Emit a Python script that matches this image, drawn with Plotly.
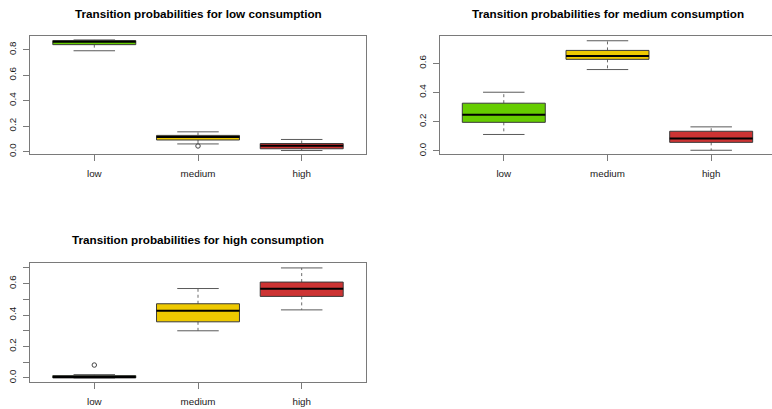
import plotly.graph_objects as go

# ---------------- data ----------------
categories = ["low", "medium", "high"]
colors = ["#66CD00", "#EEC900", "#CD3333"]

titles = [
    "Transition probabilities for low consumption",
    "Transition probabilities for medium consumption",
    "Transition probabilities for high consumption",
]

# per panel: [low, medium, high]
low_lower = [0.792, 0.113, 0.000]
low_q1 = [0.840, 0.196, 0.000]
low_med = [0.863, 0.248, 0.006]
low_q3 = [0.872, 0.327, 0.015]
low_upper = [0.877, 0.402, 0.021]

med_lower = [0.060, 0.557, 0.300]
med_q1 = [0.091, 0.627, 0.357]
med_med = [0.115, 0.650, 0.428]
med_q3 = [0.127, 0.688, 0.472]
med_upper = [0.155, 0.754, 0.569]

high_lower = [0.008, 0.005, 0.433]
high_q1 = [0.022, 0.059, 0.519]
high_med = [0.045, 0.086, 0.567]
high_q3 = [0.063, 0.135, 0.610]
high_upper = [0.095, 0.165, 0.700]

# outliers per panel: (category index, value)
outliers = [[(1, 0.044)], [], [(0, 0.082)]]

panel_ticks = [
    ([0.0, 0.2, 0.4, 0.6, 0.8], ["0.0", "0.2", "0.4", "0.6", "0.8"]),
    ([0.0, 0.2, 0.4, 0.6], ["0.0", "0.2", "0.4", "0.6"]),
    ([0.0, 0.1, 0.2, 0.3, 0.4, 0.5, 0.6, 0.7], ["0.0", "", "0.2", "", "0.4", "", "0.6", ""]),
]

# ---------------- layout geometry ----------------
W, H = 772, 409
FRAME = "#7a7a7a"
TXT = "#1a1a1a"
FONT = "Liberation Sans"
BOXW = 0.4     # half box width
STAPLE = 0.2   # half staple width

fig = go.Figure()

panels = [
    dict(x=(30, 366), y=(36, 155.5), xr=[0.38, 3.62], yr=[-0.022, 0.91], title_xy=(198, 13.5)),
    dict(x=(439.5, 772), y=(36.5, 155.5), xr=[0.38, 0.38 + (772 - 439.5) / 103.7], yr=[-0.023, 0.785], title_xy=(608, 13.5)),
    dict(x=(30, 366), y=(265, 385), xr=[0.38, 3.62], yr=[-0.027, 0.731], title_xy=(198, 241.5)),
]

for p_i, p in enumerate(panels):
    sfx = "" if p_i == 0 else str(p_i + 1)
    xa, ya = "x" + sfx, "y" + sfx
    stats = [
        (low_lower[p_i], low_q1[p_i], low_med[p_i], low_q3[p_i], low_upper[p_i]),
        (med_lower[p_i], med_q1[p_i], med_med[p_i], med_q3[p_i], med_upper[p_i]),
        (high_lower[p_i], high_q1[p_i], high_med[p_i], high_q3[p_i], high_upper[p_i]),
    ]
    for c_i, (lo, q1, md, q3, up) in enumerate(stats):
        xc = c_i + 1
        # whiskers (dashed)
        fig.add_trace(go.Scatter(x=[xc, xc, None, xc, xc], y=[q3, up, None, q1, lo], mode="lines",
                                 line=dict(color="#6a6a6a", width=1, dash="3px,3px"),
                                 xaxis=xa, yaxis=ya, showlegend=False, hoverinfo="skip"))
        # staples
        fig.add_trace(go.Scatter(x=[xc - STAPLE, xc + STAPLE, None, xc - STAPLE, xc + STAPLE],
                                 y=[up, up, None, lo, lo], mode="lines",
                                 line=dict(color="#5a5a5a", width=1),
                                 xaxis=xa, yaxis=ya, showlegend=False, hoverinfo="skip"))
        # box
        fig.add_trace(go.Scatter(x=[xc - BOXW, xc + BOXW, xc + BOXW, xc - BOXW, xc - BOXW],
                                 y=[q1, q1, q3, q3, q1], mode="lines", fill="toself",
                                 fillcolor=colors[c_i], line=dict(color="#3a3a3a", width=1),
                                 xaxis=xa, yaxis=ya, showlegend=False, hoverinfo="skip"))
        # median
        fig.add_trace(go.Scatter(x=[xc - BOXW, xc + BOXW], y=[md, md], mode="lines",
                                 line=dict(color="#000000", width=2),
                                 xaxis=xa, yaxis=ya, showlegend=False, hoverinfo="skip"))
    if outliers[p_i]:
        fig.add_trace(go.Scatter(x=[o[0] + 1 for o in outliers[p_i]], y=[o[1] for o in outliers[p_i]],
                                 mode="markers",
                                 marker=dict(symbol="circle-open", size=4.5, color="#444444", line=dict(width=1)),
                                 xaxis=xa, yaxis=ya, showlegend=False, hoverinfo="skip"))

    xdom = [p["x"][0] / W, p["x"][1] / W]
    ydom = [1 - p["y"][1] / H, 1 - p["y"][0] / H]
    tv, tt = panel_ticks[p_i]
    fig.update_layout(**{
        "xaxis" + sfx: dict(domain=xdom, range=p["xr"], anchor=ya, tickvals=[1, 2, 3], ticktext=categories,
                            showgrid=False, zeroline=False, showline=True, linecolor=FRAME, linewidth=1,
                            mirror=True, ticks="outside", ticklen=6, tickcolor=FRAME,
                            tickfont=dict(family=FONT, size=9.8, color=TXT), ticklabelstandoff=4),
        "yaxis" + sfx: dict(domain=ydom, range=p["yr"], anchor=xa, tickvals=tv, ticktext=tt,
                            showgrid=False, zeroline=False, showline=True, linecolor=FRAME, linewidth=1,
                            mirror=(p_i != 1), ticks="outside", ticklen=6, tickcolor=FRAME, tickangle=-90,
                            tickfont=dict(family=FONT, size=9.8, color=TXT), ticklabelstandoff=3),
    })
    fig.add_annotation(text="<b>" + titles[p_i] + "</b>", xref="paper", yref="paper",
                       x=p["title_xy"][0] / W, y=1 - p["title_xy"][1] / H, xanchor="center", yanchor="middle",
                       showarrow=False, font=dict(family=FONT, size=11.7, color="#000000"))

fig.update_layout(width=W, height=H, margin=dict(l=0, r=0, t=0, b=0),
                  paper_bgcolor="white", plot_bgcolor="white", showlegend=False)

fig.write_html("out.html")
